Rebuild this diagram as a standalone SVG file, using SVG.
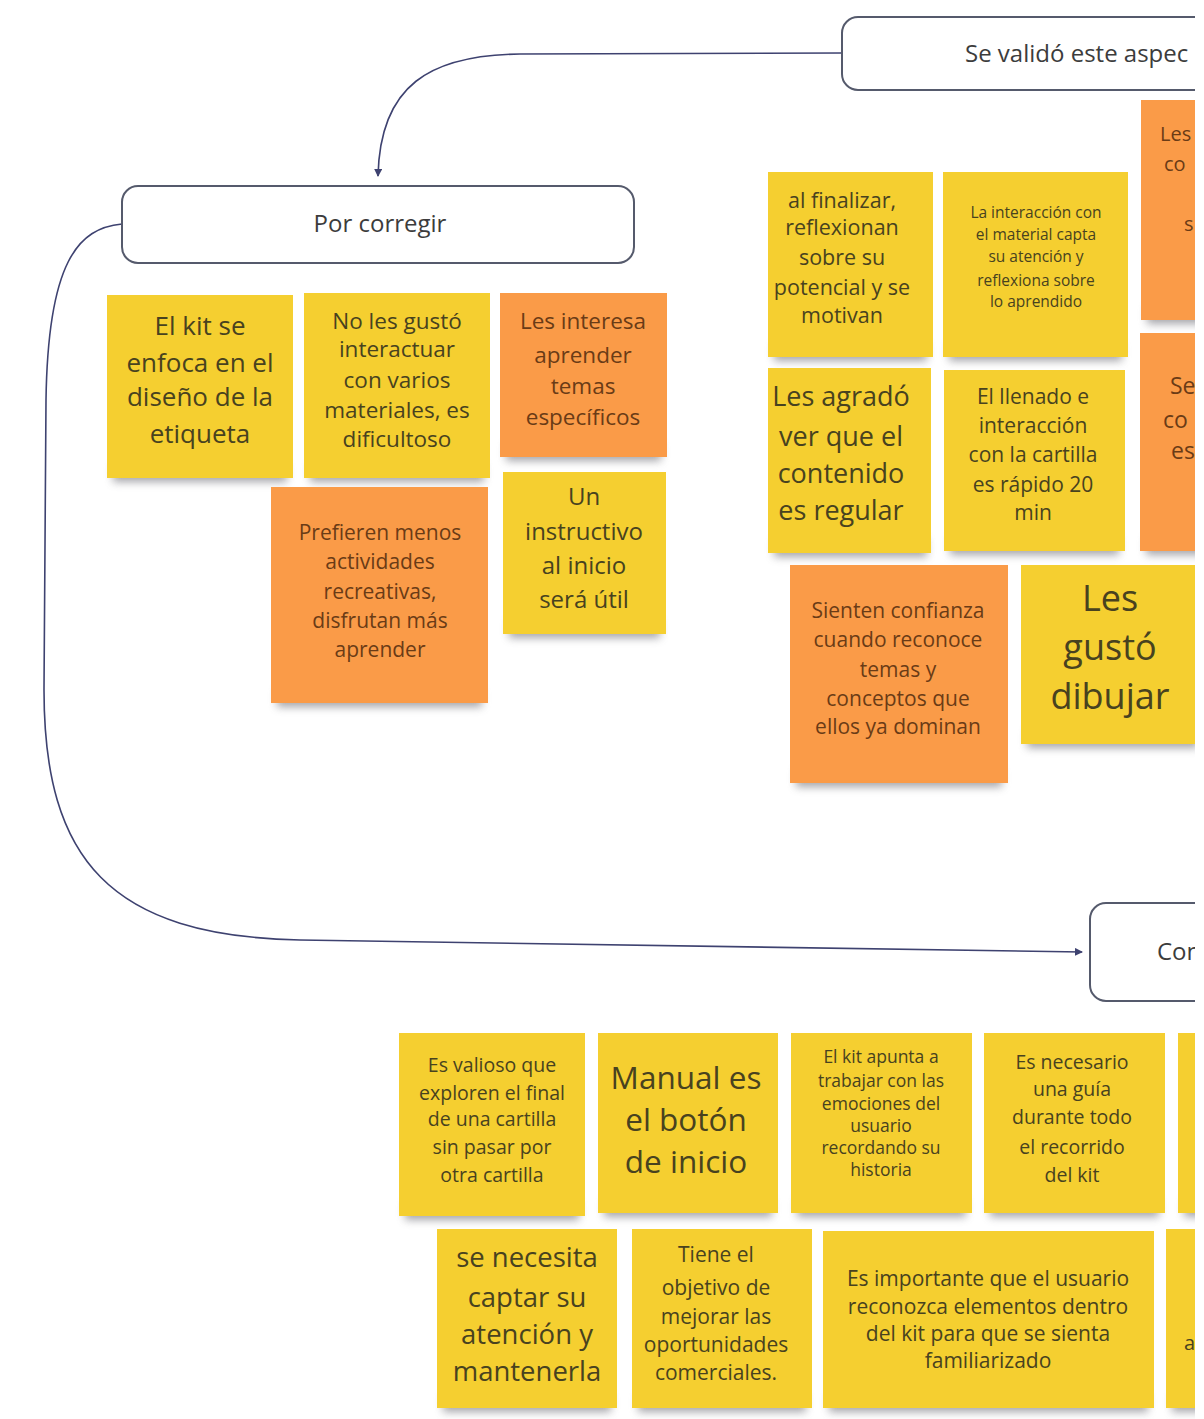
<svg xmlns="http://www.w3.org/2000/svg" width="1204" height="1419" viewBox="0 0 1204 1419">
  <style>
    .box { fill: #ffffff; stroke: #555a6c; stroke-width: 2; }
    .bt { font-family: "Open Sans", "Liberation Sans", sans-serif; font-size: 24px; fill: #3c3c3c; }
    .y { fill: #f5cf30; }
    .o { fill: #fa9b48; }
    .sh { fill: #5e5e66; opacity: 0.55; }
    .t { font-family: "Open Sans", "Liberation Sans", sans-serif; fill: #48421f; text-anchor: middle; }
    .to { font-family: "Open Sans", "Liberation Sans", sans-serif; fill: #6a3b16; text-anchor: middle; }
    .edge { text-anchor: start; }
    .link { fill: none; stroke: #3e4270; stroke-width: 1.6; }
  </style>
  <defs>
    <filter id="soft" x="-20%" y="-100%" width="140%" height="300%">
      <feGaussianBlur stdDeviation="4"/>
    </filter>
    <marker id="arrow" viewBox="0 0 8 8" refX="7" refY="4" markerWidth="8" markerHeight="8" markerUnits="userSpaceOnUse" orient="auto">
      <path d="M0,0 L8,4 L0,8 z" fill="#3e4270"/>
    </marker>
    <clipPath id="frame">
      <rect x="0" y="0" width="1195" height="1419"/>
    </clipPath>
  </defs>

  <rect x="0" y="0" width="1204" height="1419" fill="#ffffff"/>

  <g clip-path="url(#frame)">
    <!-- connectors -->
    <g id="connectors">
      <path class="link" d="M842,53 L520,54 C430,55 380,85 378,176" marker-end="url(#arrow)"/>
      <path class="link" d="M122,224 C78,228 48,262 46,400 L44,690 C44,860 110,936 300,940 L1082,952" marker-end="url(#arrow)"/>
    </g>

    <!-- category headers -->
    <g id="box-validado">
      <rect class="box" x="842" y="17" width="420" height="73" rx="16"/>
      <text class="bt" x="965" y="62">Se validó este aspec</text>
    </g>
    <g id="box-corregir">
      <rect class="box" x="122" y="186" width="512" height="77" rx="16"/>
      <text class="bt" x="380" y="232" text-anchor="middle">Por corregir</text>
    </g>
    <g id="box-con">
      <rect class="box" x="1090" y="903" width="300" height="98" rx="16"/>
      <text class="bt" x="1157" y="960">Con</text>
    </g>

    <!-- Por corregir notes -->
    <g id="n-kit-etiqueta">
      <rect class="sh" x="113" y="464" width="174" height="18" filter="url(#soft)"/>
      <rect class="y" x="107" y="295" width="186" height="183"/>
      <text class="t" font-size="26"><tspan x="200" y="335">El kit se</tspan><tspan x="200" y="372">enfoca en el</tspan><tspan x="200" y="406">diseño de la</tspan><tspan x="200" y="443">etiqueta</tspan></text>
    </g>
    <g id="n-no-gusto">
      <rect class="sh" x="310" y="464" width="174" height="18" filter="url(#soft)"/>
      <rect class="y" x="304" y="293" width="186" height="185"/>
      <text class="t" font-size="22.5"><tspan x="397" y="329">No les gustó</tspan><tspan x="397" y="357">interactuar</tspan><tspan x="397" y="388">con varios</tspan><tspan x="397" y="418">materiales, es</tspan><tspan x="397" y="447">dificultoso</tspan></text>
    </g>
    <g id="n-interesa">
      <rect class="sh" x="506" y="443" width="155" height="18" filter="url(#soft)"/>
      <rect class="o" x="500" y="293" width="167" height="164"/>
      <text class="to" font-size="22.5"><tspan x="583" y="329">Les interesa</tspan><tspan x="583" y="363">aprender</tspan><tspan x="583" y="394">temas</tspan><tspan x="583" y="425">específicos</tspan></text>
    </g>
    <g id="n-instructivo">
      <rect class="sh" x="509" y="620" width="151" height="18" filter="url(#soft)"/>
      <rect class="y" x="503" y="472" width="163" height="162"/>
      <text class="t" font-size="24"><tspan x="584" y="505">Un</tspan><tspan x="584" y="540">instructivo</tspan><tspan x="584" y="574">al inicio</tspan><tspan x="584" y="608">será útil</tspan></text>
    </g>
    <g id="n-prefieren">
      <rect class="sh" x="277" y="689" width="205" height="18" filter="url(#soft)"/>
      <rect class="o" x="271" y="487" width="217" height="216"/>
      <text class="to" font-size="21"><tspan x="380" y="540">Prefieren menos</tspan><tspan x="380" y="569">actividades</tspan><tspan x="380" y="599">recreativas,</tspan><tspan x="380" y="628">disfrutan más</tspan><tspan x="380" y="657">aprender</tspan></text>
    </g>

    <!-- Se validó notes -->
    <g id="n-finalizar">
      <rect class="sh" x="774" y="343" width="153" height="18" filter="url(#soft)"/>
      <rect class="y" x="768" y="172" width="165" height="185"/>
      <text class="t" font-size="21.5"><tspan x="842" y="208">al finalizar,</tspan><tspan x="842" y="235">reflexionan</tspan><tspan x="842" y="265">sobre su</tspan><tspan x="842" y="295">potencial y se</tspan><tspan x="842" y="323">motivan</tspan></text>
    </g>
    <g id="n-interaccion">
      <rect class="sh" x="949" y="343" width="173" height="18" filter="url(#soft)"/>
      <rect class="y" x="943" y="172" width="185" height="185"/>
      <text class="t" font-size="15.5"><tspan x="1036" y="218">La interacción con</tspan><tspan x="1036" y="240">el material capta</tspan><tspan x="1036" y="262">su atención y</tspan><tspan x="1036" y="286">reflexiona sobre</tspan><tspan x="1036" y="307">lo aprendido</tspan></text>
    </g>
    <g id="n-les-co">
      <rect class="sh" x="1147" y="306" width="188" height="18" filter="url(#soft)"/>
      <rect class="o" x="1141" y="100" width="200" height="220"/>
      <text class="to edge" font-size="20"><tspan x="1160" y="141">Les</tspan><tspan x="1164" y="171">co</tspan><tspan x="1184" y="231">s</tspan></text>
    </g>
    <g id="n-agrado">
      <rect class="sh" x="774" y="539" width="153" height="18" filter="url(#soft)"/>
      <rect class="y" x="768" y="368" width="163" height="185"/>
      <text class="t" font-size="27"><tspan x="841" y="406">Les agradó</tspan><tspan x="841" y="446">ver que el</tspan><tspan x="841" y="483">contenido</tspan><tspan x="841" y="520">es regular</tspan></text>
    </g>
    <g id="n-llenado">
      <rect class="sh" x="950" y="537" width="169" height="18" filter="url(#soft)"/>
      <rect class="y" x="944" y="370" width="181" height="181"/>
      <text class="t" font-size="21"><tspan x="1033" y="404">El llenado e</tspan><tspan x="1033" y="433">interacción</tspan><tspan x="1033" y="462">con la cartilla</tspan><tspan x="1033" y="492">es rápido 20</tspan><tspan x="1033" y="520">min</tspan></text>
    </g>
    <g id="n-se-co">
      <rect class="sh" x="1146" y="537" width="188" height="18" filter="url(#soft)"/>
      <rect class="o" x="1140" y="333" width="200" height="218"/>
      <text class="to edge" font-size="23"><tspan x="1170" y="394">Se</tspan><tspan x="1163" y="428">co</tspan><tspan x="1171" y="459">es</tspan></text>
    </g>
    <g id="n-confianza">
      <rect class="sh" x="796" y="769" width="206" height="18" filter="url(#soft)"/>
      <rect class="o" x="790" y="565" width="218" height="218"/>
      <text class="to" font-size="21"><tspan x="898" y="618">Sienten confianza</tspan><tspan x="898" y="647">cuando reconoce</tspan><tspan x="898" y="677">temas y</tspan><tspan x="898" y="706">conceptos que</tspan><tspan x="898" y="734">ellos ya dominan</tspan></text>
    </g>
    <g id="n-dibujar">
      <rect class="sh" x="1027" y="730" width="171" height="18" filter="url(#soft)"/>
      <rect class="y" x="1021" y="565" width="183" height="179"/>
      <text class="t" font-size="36"><tspan x="1110" y="611">Les</tspan><tspan x="1110" y="660">gustó</tspan><tspan x="1110" y="709">dibujar</tspan></text>
    </g>

    <!-- Con... notes -->
    <g id="n-valioso">
      <rect class="sh" x="405" y="1202" width="174" height="18" filter="url(#soft)"/>
      <rect class="y" x="399" y="1033" width="186" height="183"/>
      <text class="t" font-size="19.5"><tspan x="492" y="1072">Es valioso que</tspan><tspan x="492" y="1100">exploren el final</tspan><tspan x="492" y="1126">de una cartilla</tspan><tspan x="492" y="1154">sin pasar por</tspan><tspan x="492" y="1182">otra cartilla</tspan></text>
    </g>
    <g id="n-manual">
      <rect class="sh" x="604" y="1199" width="168" height="18" filter="url(#soft)"/>
      <rect class="y" x="598" y="1033" width="180" height="180"/>
      <text class="t" font-size="31.5"><tspan x="686" y="1089">Manual es</tspan><tspan x="686" y="1131">el botón</tspan><tspan x="686" y="1173">de inicio</tspan></text>
    </g>
    <g id="n-emociones">
      <rect class="sh" x="797" y="1199" width="169" height="18" filter="url(#soft)"/>
      <rect class="y" x="791" y="1033" width="181" height="180"/>
      <text class="t" font-size="17.5"><tspan x="881" y="1063">El kit apunta a</tspan><tspan x="881" y="1087">trabajar con las</tspan><tspan x="881" y="1110">emociones del</tspan><tspan x="881" y="1132">usuario</tspan><tspan x="881" y="1154">recordando su</tspan><tspan x="881" y="1176">historia</tspan></text>
    </g>
    <g id="n-guia">
      <rect class="sh" x="990" y="1199" width="169" height="18" filter="url(#soft)"/>
      <rect class="y" x="984" y="1033" width="181" height="180"/>
      <text class="t" font-size="19.5"><tspan x="1072" y="1069">Es necesario</tspan><tspan x="1072" y="1096">una guía</tspan><tspan x="1072" y="1124">durante todo</tspan><tspan x="1072" y="1154">el recorrido</tspan><tspan x="1072" y="1182">del kit</tspan></text>
    </g>
    <g id="n-edge-top">
      <rect class="sh" x="1184" y="1199" width="88" height="18" filter="url(#soft)"/>
      <rect class="y" x="1178" y="1033" width="100" height="180"/>
    </g>
    <g id="n-atencion">
      <rect class="sh" x="443" y="1394" width="168" height="18" filter="url(#soft)"/>
      <rect class="y" x="437" y="1229" width="180" height="179"/>
      <text class="t" font-size="27.5"><tspan x="527" y="1267">se necesita</tspan><tspan x="527" y="1307">captar su</tspan><tspan x="527" y="1344">atención y</tspan><tspan x="527" y="1381">mantenerla</tspan></text>
    </g>
    <g id="n-objetivo">
      <rect class="sh" x="638" y="1394" width="168" height="18" filter="url(#soft)"/>
      <rect class="y" x="632" y="1229" width="180" height="179"/>
      <text class="t" font-size="21"><tspan x="716" y="1262">Tiene el</tspan><tspan x="716" y="1295">objetivo de</tspan><tspan x="716" y="1324">mejorar las</tspan><tspan x="716" y="1352">oportunidades</tspan><tspan x="716" y="1380">comerciales.</tspan></text>
    </g>
    <g id="n-familiar">
      <rect class="sh" x="829" y="1394" width="319" height="18" filter="url(#soft)"/>
      <rect class="y" x="823" y="1231" width="331" height="177"/>
      <text class="t" font-size="21"><tspan x="988" y="1286">Es importante que el usuario</tspan><tspan x="988" y="1314">reconozca elementos dentro</tspan><tspan x="988" y="1341">del kit para que se sienta</tspan><tspan x="988" y="1368">familiarizado</tspan></text>
    </g>
    <g id="n-edge-bottom">
      <rect class="sh" x="1172" y="1394" width="88" height="18" filter="url(#soft)"/>
      <rect class="y" x="1166" y="1229" width="100" height="179"/>
      <text class="t edge" font-size="20" x="1184" y="1350">a</text>
    </g>
  </g>
</svg>
